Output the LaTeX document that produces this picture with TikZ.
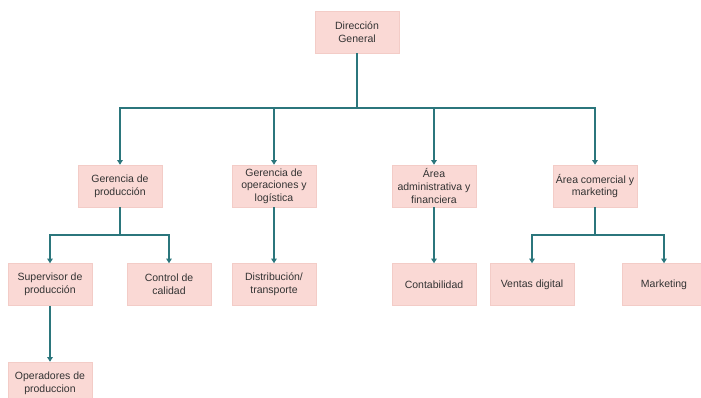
\documentclass[tikz,border=0pt]{standalone}
\usepackage{fontspec}
\setmainfont{Liberation Sans}
\usetikzlibrary{arrows.meta}
\definecolor{boxfill}{HTML}{FAD9D5}
\definecolor{boxline}{HTML}{F3CCC7}
\definecolor{conncol}{HTML}{2B767C}
\begin{document}
\begin{tikzpicture}[x=1pt,y=-1pt,
  orgbox/.style={draw=boxline,fill=boxfill,line width=0.6pt,minimum width=84pt,minimum height=42pt,
    inner sep=1pt,align=center,font=\fontsize{10.5}{12.6}\selectfont,text=black!80},
  conn/.style={draw=conncol,line width=1.1pt,-{Triangle[width=5.5pt,length=4.5pt]}},
  plain/.style={draw=conncol,line width=1.1pt}]
\useasboundingbox (0,0) rectangle (701,398);
\node[orgbox] (dg) at (357,32) {Dirección\\General};
\node[orgbox] (gp) at (120,186) {Gerencia de\\producción};
\node[orgbox] (go) at (274,186) {Gerencia de\\operaciones y\\logística};
\node[orgbox] (aa) at (434,186) {Área\\administrativa y\\financiera};
\node[orgbox] (ac) at (595,186) {Área comercial y\\marketing};
\node[orgbox] (sp) at (50,284.5) {Supervisor de\\producción};
\node[orgbox] (cc) at (169,284.5) {Control de\\calidad};
\node[orgbox] (dt) at (274,284.5) {Distribución/\\transporte};
\node[orgbox] (co) at (434,284.5) {Contabilidad};
\node[orgbox] (vd) at (532,284.5) {Ventas digital};
\node[orgbox] (mk) at (664,284.5) {Marketing};
\node[orgbox] (op) at (50,383) {Operadores de\\produccion};
\coordinate (bus) at (357,108);
\coordinate (pbus) at (120,235);
\coordinate (cbus) at (595,235);
\draw[plain] (dg.south) -- (bus);
\draw[conn] (bus) -| (gp.north);
\draw[conn] (bus) -| (go.north);
\draw[conn] (bus) -| (aa.north);
\draw[conn] (bus) -| (ac.north);
\draw[plain] (gp.south) -- (pbus);
\draw[conn] (pbus) -| (sp.north);
\draw[conn] (pbus) -| (cc.north);
\draw[conn] (go.south) -- (dt.north);
\draw[conn] (aa.south) -- (co.north);
\draw[plain] (ac.south) -- (cbus);
\draw[conn] (cbus) -| (vd.north);
\draw[conn] (cbus) -| (mk.north);
\draw[conn] (sp.south) -- (op.north);
\end{tikzpicture}
\end{document}
